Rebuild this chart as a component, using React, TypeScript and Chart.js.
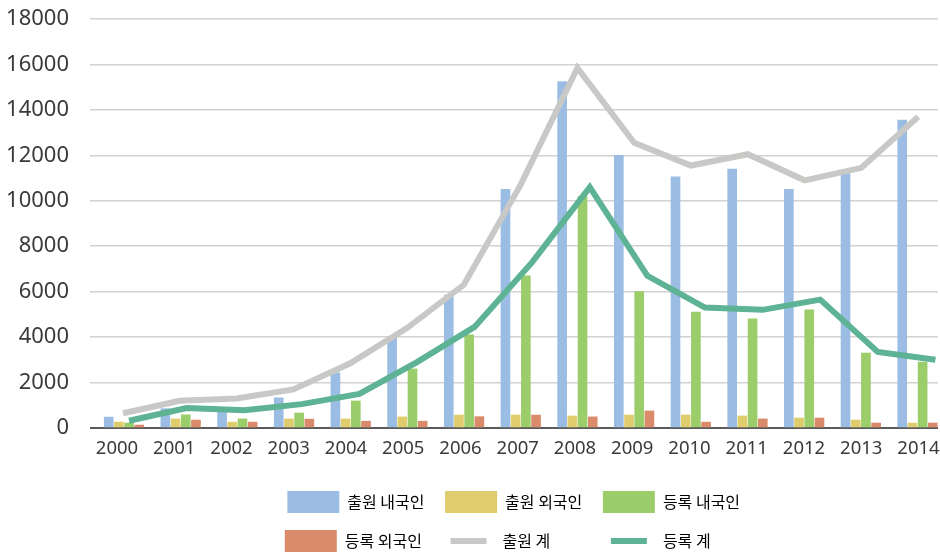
import React, { useEffect, useRef } from 'react';
import { Chart, registerables } from 'chart.js';

Chart.register(...registerables);

// ---- data ----
const years = ['2000', '2001', '2002', '2003', '2004', '2005', '2006', '2007', '2008', '2009', '2010', '2011', '2012', '2013', '2014'];
const applicationsDomestic = [480, 850, 850, 1330, 2430, 4000, 5850, 10500, 15250, 12000, 11050, 11400, 10500, 11200, 13550];
const applicationsForeign = [260, 400, 260, 400, 400, 490, 570, 570, 530, 570, 570, 530, 440, 350, 220];
const registrationsDomestic = [220, 580, 400, 660, 1190, 2600, 4100, 6700, 10200, 6000, 5100, 4800, 5200, 3300, 2900];
const registrationsForeign = [130, 350, 260, 390, 300, 300, 500, 570, 490, 750, 260, 400, 440, 220, 220];
const applicationsTotal = [650, 1200, 1300, 1700, 2850, 4400, 6300, 10700, 15850, 12550, 11550, 12050, 10900, 11450, 13700];
const registrationsTotal = [320, 880, 780, 1050, 1500, 2900, 4450, 7300, 10600, 6700, 5300, 5200, 5650, 3350, 3000];
const yTicks = { min: 0, max: 18000, step: 2000 };

const seriesLabels = ['출원 내국인', '출원 외국인', '등록 내국인', '등록 외국인', '출원 계', '등록 계'];

// ---- styles ----
const barColors = ['#9bbde3', '#dfcd6d', '#9ccd6b', '#d98b6b'];
const lineColors = ['#c8c8c6', '#5db394'];
const textColor = '#3a3a3a';

const toPoints = (values: number[]) => values.map((v, i) => ({ x: i, y: v }));

// linear index axis whose index 0 sits at `first` px with `step` px per year
const AREA_LEFT = 90;
const AREA_WIDTH = 848;
const YEAR_STEP_BARS = 56.68;
const BAR_GROUP_CENTER = 124;
const BAR_SLOT = 10.2;
const BAR_WIDTH = 9;
function indexAxis(first: number, step: number, display = false) {
  const min = -(first - AREA_LEFT) / step;
  return {
    type: 'linear',
    axis: 'x',
    position: 'bottom',
    display,
    offset: false,
    min,
    max: min + AREA_WIDTH / step,
    grid: { display: false, offset: false, drawTicks: true, tickLength: 10 },
    border: { display: false },
    ticks: { stepSize: 1, includeBounds: false, autoSkip: false },
  };
}

// legend: three entries per row, columns starting at ~286px
const LEGEND_ROW_WIDTH = 520;
const LEGEND_LEFT = 181;
const LEGEND_RIGHT = 850;
const legendRows = {
  id: 'legendRows',
  afterInit(chart: any) {
    const legend = chart.legend;
    if (!legend) return;
    const update = legend.update.bind(legend);
    legend.update = (w: number, h: number, m: any) => update(Math.min(w, LEGEND_ROW_WIDTH), h, m);
  },
  afterLayout(chart: any) {
    const legend = chart.legend;
    if (!legend) return;
    legend.left = LEGEND_LEFT;
    legend.right = LEGEND_RIGHT;
    legend.width = LEGEND_RIGHT - LEGEND_LEFT;
  },
};

export default function App() {
  const ref = useRef<HTMLCanvasElement | null>(null);

  useEffect(() => {
    if (!ref.current) return;
    const tickFont = { family: "'Noto Sans', 'Noto Sans CJK KR', sans-serif" };
    const maxLen = Math.max(...seriesLabels.map((s) => s.length));

    const barSeries = [applicationsDomestic, applicationsForeign, registrationsDomestic, registrationsForeign];
    const lineSeries = [applicationsTotal, registrationsTotal];

    const barAxes: Record<string, any> = {};
    barSeries.forEach((_, k) => {
      barAxes[`xBar${k}`] = indexAxis(BAR_GROUP_CENTER + (k - 1.5) * BAR_SLOT, YEAR_STEP_BARS);
    });

    const datasets: any[] = [
      ...barSeries.map((vals, k) => ({
        type: 'bar',
        label: seriesLabels[k],
        data: toPoints(vals),
        xAxisID: `xBar${k}`,
        yAxisID: 'y',
        backgroundColor: barColors[k],
        borderWidth: 0,
        grouped: false,
        barThickness: BAR_WIDTH,
        order: 0,
      })),
      ...lineSeries.map((vals, k) => ({
        type: 'line',
        label: seriesLabels[4 + k],
        data: toPoints(vals),
        xAxisID: k === 0 ? 'xGrey' : 'xGreen',
        yAxisID: 'y',
        borderColor: lineColors[k],
        backgroundColor: lineColors[k],
        borderWidth: 6,
        pointRadius: 0,
        pointHoverRadius: 0,
        tension: 0,
        fill: false,
        order: -1 - k,
      })),
    ];

    const labelAxis = indexAxis(117, 57.25, true);

    const chart = new Chart(ref.current, {
      type: 'bar',
      data: { labels: years, datasets },
      plugins: [legendRows],
      options: {
        animation: false,
        responsive: false,
        devicePixelRatio: 1,
        layout: { padding: { top: 19, right: 2, bottom: 0, left: 0 } },
        plugins: {
          tooltip: { enabled: false },
          legend: {
            position: 'bottom',
            fullSize: false,
            labels: {
              boxWidth: 52,
              boxHeight: 22,
              padding: 17,
              color: '#404040',
              font: { family: "'Noto Sans CJK KR', 'Noto Sans', sans-serif", size: 16 },
              generateLabels: (c: any) =>
                c.data.datasets.map((ds: any, i: number) => {
                  const isLine = ds.type === 'line';
                  const fill = '\u3000'.repeat(maxLen - ds.label.length);
                  return {
                    text: `${ds.label}${fill} `,
                    fillStyle: isLine ? ds.borderColor : ds.backgroundColor,
                    strokeStyle: isLine ? '#ffffff' : ds.backgroundColor,
                    lineWidth: isLine ? 16 : 0,
                    hidden: !c.isDatasetVisible(i),
                    datasetIndex: i,
                  };
                }),
            },
          },
        },
        scales: {
          ...barAxes,
          xLabels: {
            ...labelAxis,
            ticks: {
              ...labelAxis.ticks,
              maxRotation: 0,
              padding: 0,
              color: textColor,
              font: { ...tickFont, size: 18.5 },
              callback: (v: any) => (Number.isInteger(v) ? years[v] ?? '' : ''),
            },
            afterFit: (s: any) => {
              s.height = 46;
              s.paddingLeft = 0;
              s.paddingRight = 0;
            },
          },
          xGrey: indexAxis(123, 56.8),
          xGreen: indexAxis(129, 57.6),
          y: {
            type: 'linear',
            position: 'left',
            min: yTicks.min,
            max: yTicks.max,
            ticks: {
              stepSize: yTicks.step,
              padding: 21,
              color: textColor,
              font: { ...tickFont, size: 22 },
              callback: (v: any) => String(v),
            },
            grid: {
              drawTicks: false,
              color: (ctx: any) => (ctx.tick && ctx.tick.value === 0 ? '#5a5a5a' : '#d2d2d2'),
              lineWidth: (ctx: any) => (ctx.tick && ctx.tick.value === 0 ? 2 : 1.5),
            },
            border: { display: false },
            afterFit: (s: any) => {
              s.width = 90;
              s.paddingTop = 0;
              s.paddingBottom = 0;
            },
          },
        },
      } as any,
    });

    return () => chart.destroy();
  }, []);

  return (
    <div style={{ position: 'fixed', left: 0, top: 0, width: 940, height: 562, background: '#fff' }}>
      <canvas ref={ref} width={940} height={562} style={{ display: 'block', width: 940, height: 562 }} />
    </div>
  );
}
